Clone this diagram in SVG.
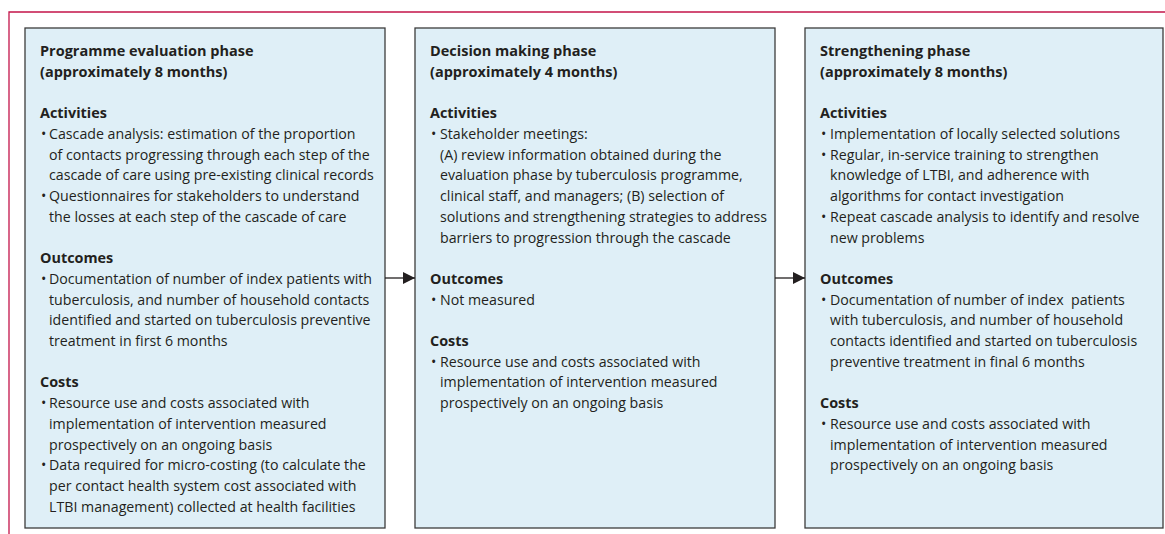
<svg xmlns="http://www.w3.org/2000/svg" width="1165" height="534" viewBox="0 0 1165 534">
  <defs>
    <style>
      .frame { fill: none; stroke: #c4154a; stroke-width: 1.3; }
      .box { fill: #dfeff7; stroke: #3c3c3c; stroke-width: 1.3; }
      .title { font-family: "Open Sans", "Liberation Sans", sans-serif; font-size: 14.5px; font-weight: 700; fill: #231f20; }
      .head { font-family: "Open Sans", "Liberation Sans", sans-serif; font-size: 14.4px; font-weight: 700; fill: #231f20; }
      .body { font-family: "Open Sans", "Liberation Sans", sans-serif; font-size: 14.2px; fill: #231f20; }
      .link { stroke: #231f20; stroke-width: 1.3; fill: none; }
    </style>
    <marker id="arrowhead" viewBox="0 0 12 12" refX="12" refY="6" markerWidth="12" markerHeight="12" markerUnits="userSpaceOnUse" orient="auto">
      <path d="M0,0 L12,6 L0,12 Z" fill="#231f20"/>
    </marker>
  </defs>

  <!-- page frame rule -->
  <path class="frame" d="M9,534 V12 H1165"/>

  <!-- phase 1 -->
  <g id="programme-evaluation">
    <rect class="box" x="25" y="28" width="360" height="500"/>
    <text class="title" x="40"><tspan x="40" y="56">Programme evaluation phase</tspan><tspan x="40" y="76.7">(approximately 8 months)</tspan></text>
    <text class="head" x="40" y="118">Activities</text>
    <text class="body" x="41" y="139">•</text>
    <text class="body"><tspan x="49" y="139">Cascade analysis: estimation of the proportion</tspan><tspan x="49" y="159.7">of contacts progressing through each step of the</tspan><tspan x="49" y="180.4">cascade of care using pre-existing clinical records</tspan></text>
    <text class="body" x="41" y="201.1">•</text>
    <text class="body"><tspan x="49" y="201.1">Questionnaires for stakeholders to understand</tspan><tspan x="49" y="221.8">the losses at each step of the cascade of care</tspan></text>
    <text class="head" x="40" y="263.2">Outcomes</text>
    <text class="body" x="41" y="283.9">•</text>
    <text class="body"><tspan x="49" y="283.9">Documentation of number of index patients with</tspan><tspan x="49" y="304.6">tuberculosis, and number of household contacts</tspan><tspan x="49" y="325.3">identified and started on tuberculosis preventive</tspan><tspan x="49" y="346">treatment in first 6 months</tspan></text>
    <text class="head" x="40" y="387.4">Costs</text>
    <text class="body" x="41" y="408.1">•</text>
    <text class="body"><tspan x="49" y="408.1">Resource use and costs associated with</tspan><tspan x="49" y="428.8">implementation of intervention measured</tspan><tspan x="49" y="449.5">prospectively on an ongoing basis</tspan></text>
    <text class="body" x="41" y="470.2">•</text>
    <text class="body"><tspan x="49" y="470.2">Data required for micro-costing (to calculate the</tspan><tspan x="49" y="490.9">per contact health system cost associated with</tspan><tspan x="49" y="511.6">LTBI management) collected at health facilities</tspan></text>
  </g>

  <!-- phase 2 -->
  <g id="decision-making">
    <rect class="box" x="415" y="28" width="360" height="500"/>
    <text class="title"><tspan x="430" y="56">Decision making phase</tspan><tspan x="430" y="76.7">(approximately 4 months)</tspan></text>
    <text class="head" x="430" y="118">Activities</text>
    <text class="body" x="431" y="139">•</text>
    <text class="body"><tspan x="440" y="139">Stakeholder meetings:</tspan><tspan x="440" y="159.7">(A) review information obtained during the</tspan><tspan x="440" y="180.4">evaluation phase by tuberculosis programme,</tspan><tspan x="440" y="201.1">clinical staff, and managers; (B) selection of</tspan><tspan x="440" y="221.8">solutions and strengthening strategies to address</tspan><tspan x="440" y="242.5">barriers to progression through the cascade</tspan></text>
    <text class="head" x="430" y="283.9">Outcomes</text>
    <text class="body" x="431" y="304.6">•</text>
    <text class="body" x="440" y="304.6">Not measured</text>
    <text class="head" x="430" y="346">Costs</text>
    <text class="body" x="431" y="366.7">•</text>
    <text class="body"><tspan x="440" y="366.7">Resource use and costs associated with</tspan><tspan x="440" y="387.4">implementation of intervention measured</tspan><tspan x="440" y="408.1">prospectively on an ongoing basis</tspan></text>
  </g>

  <!-- phase 3 -->
  <g id="strengthening">
    <rect class="box" x="805" y="28" width="358" height="500"/>
    <text class="title"><tspan x="820" y="56">Strengthening phase</tspan><tspan x="820" y="76.7">(approximately 8 months)</tspan></text>
    <text class="head" x="820" y="118">Activities</text>
    <text class="body" x="821" y="139">•</text>
    <text class="body" x="830" y="139">Implementation of locally selected solutions</text>
    <text class="body" x="821" y="159.7">•</text>
    <text class="body"><tspan x="830" y="159.7">Regular, in-service training to strengthen</tspan><tspan x="830" y="180.4">knowledge of LTBI, and adherence with</tspan><tspan x="830" y="201.1">algorithms for contact investigation</tspan></text>
    <text class="body" x="821" y="221.8">•</text>
    <text class="body"><tspan x="830" y="221.8">Repeat cascade analysis to identify and resolve</tspan><tspan x="830" y="242.5">new problems</tspan></text>
    <text class="head" x="820" y="283.9">Outcomes</text>
    <text class="body" x="821" y="304.6">•</text>
    <text class="body" xml:space="preserve"><tspan x="830" y="304.6">Documentation of number of index  patients</tspan><tspan x="830" y="325.3">with tuberculosis, and number of household</tspan><tspan x="830" y="346">contacts identified and started on tuberculosis</tspan><tspan x="830" y="366.7">preventive treatment in final 6 months</tspan></text>
    <text class="head" x="820" y="408.1">Costs</text>
    <text class="body" x="821" y="428.8">•</text>
    <text class="body"><tspan x="830" y="428.8">Resource use and costs associated with</tspan><tspan x="830" y="449.5">implementation of intervention measured</tspan><tspan x="830" y="470.2">prospectively on an ongoing basis</tspan></text>
  </g>

  <!-- connectors between phases -->
  <g id="connectors">
    <line class="link" x1="385" y1="278" x2="415" y2="278" marker-end="url(#arrowhead)"/>
    <line class="link" x1="775" y1="278" x2="805" y2="278" marker-end="url(#arrowhead)"/>
  </g>
</svg>
